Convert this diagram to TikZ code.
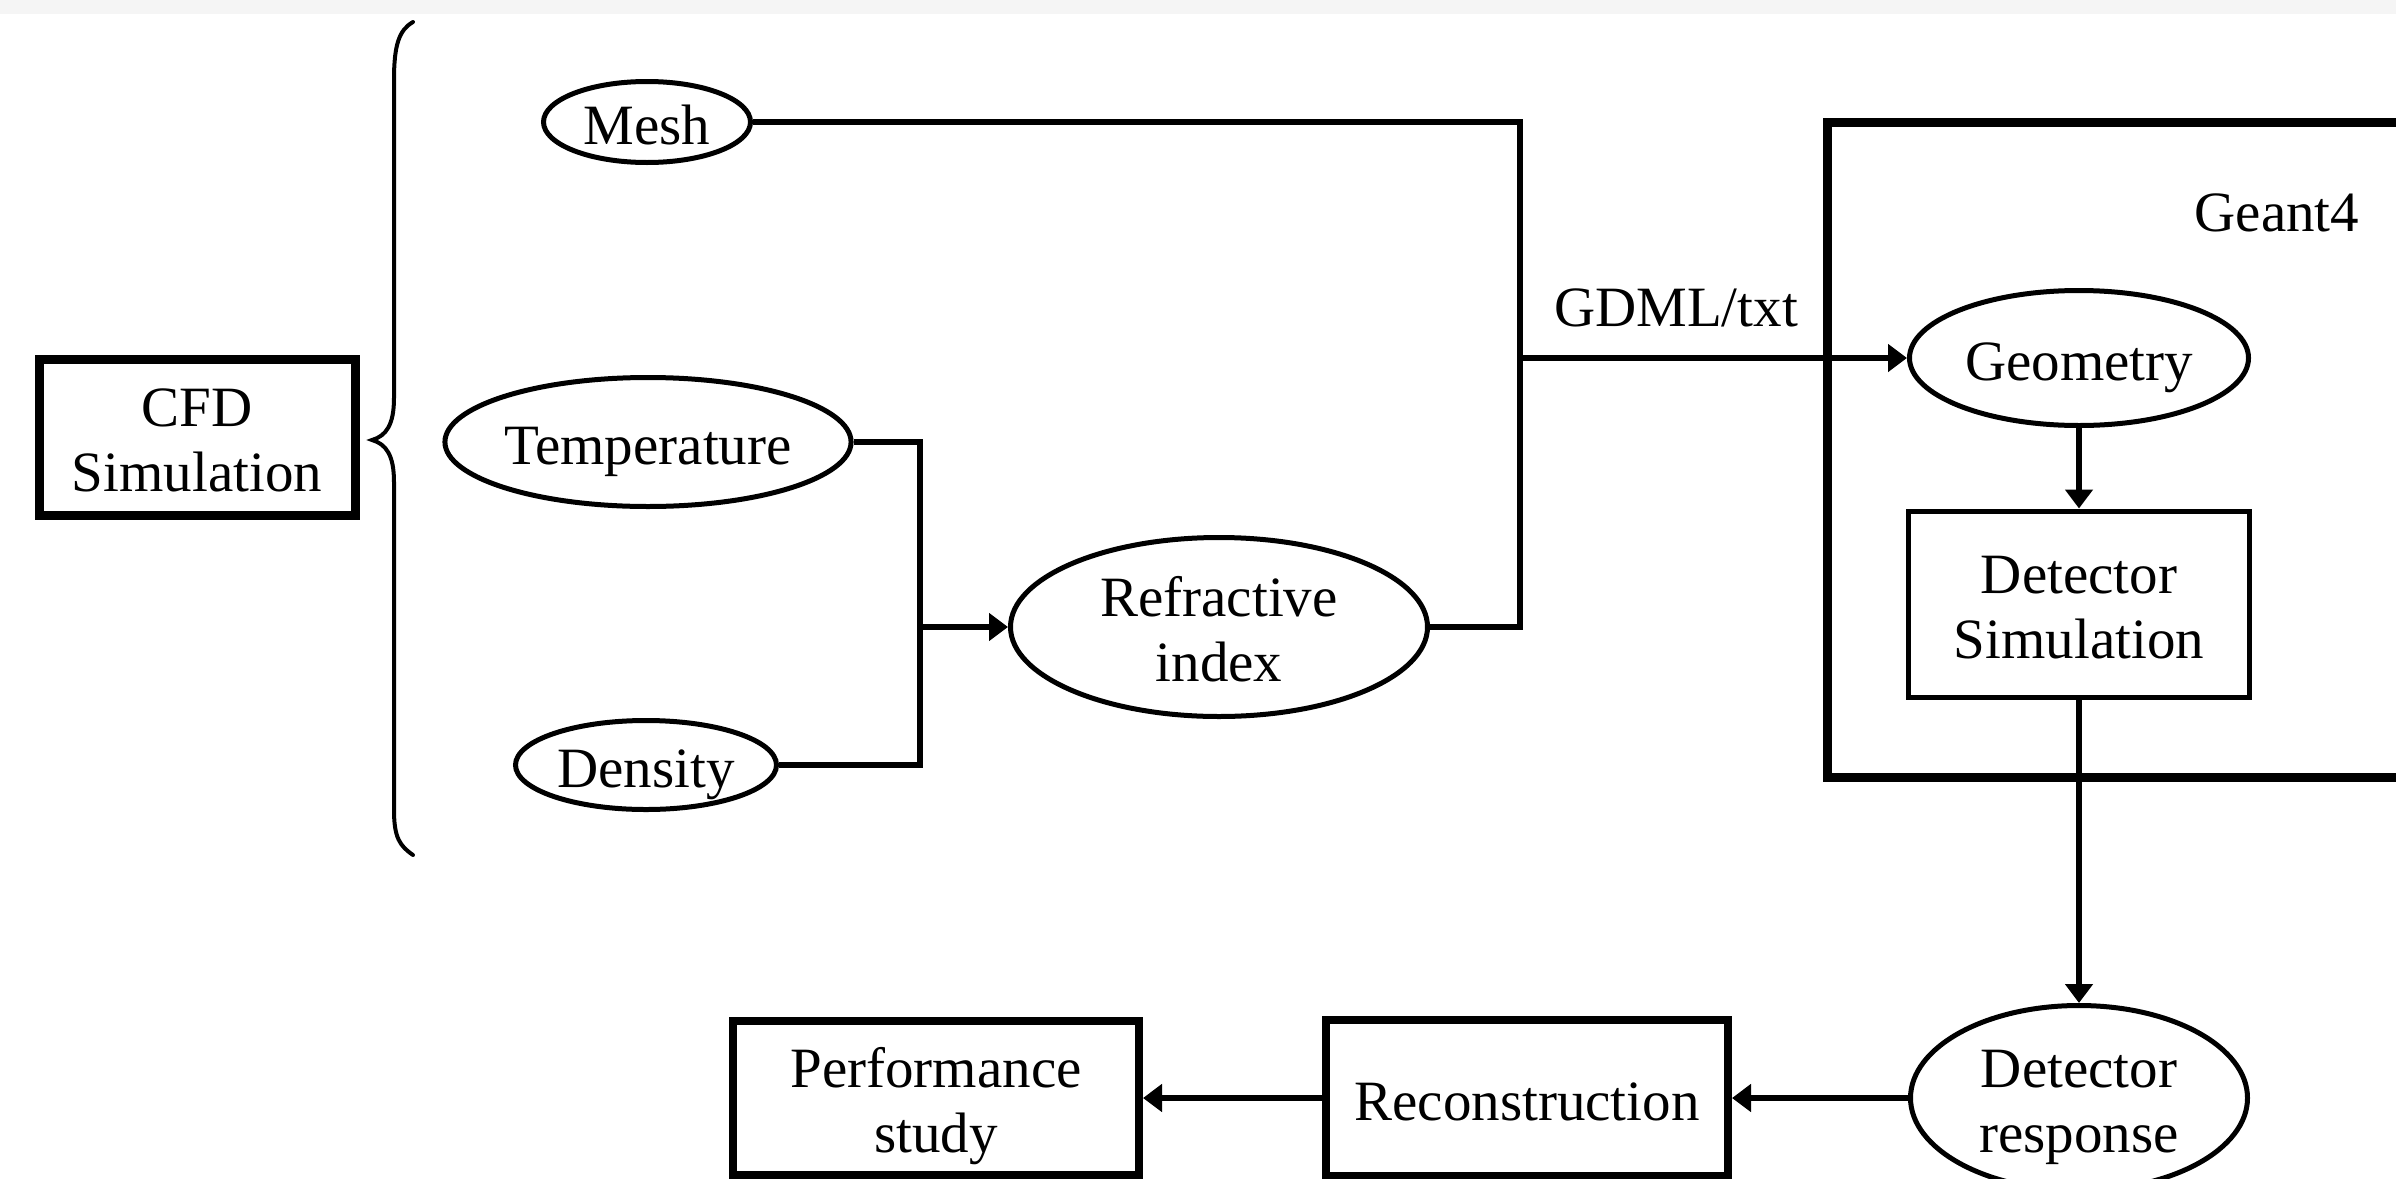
\documentclass[tikz,border=0pt]{standalone}
\usepackage{fontspec}
\setmainfont{Liberation Serif}
\usetikzlibrary{shapes.geometric,arrows.meta}
\newcommand\onel[1]{\raisebox{0pt}[44pt][0pt]{#1}}
\newcommand\twol[2]{\raisebox{0pt}[43pt][65pt]{\vtop{\baselineskip=65pt\lineskiplimit=-100pt\halign{\hfil##\hfil\cr #1\cr #2\cr}}}}
\begin{document}
\begin{tikzpicture}[x=1pt,y=-1pt,
  every node/.style={font=\fontsize{57}{65}\selectfont, inner sep=0pt},
  oval/.style={draw, ellipse, line width=5pt},
  thinbox/.style={draw, rectangle, line width=5pt},
  thickbox/.style={draw, rectangle, line width=9pt},
  conn/.style={line width=5.5pt},
  arr/.style={conn, -{Triangle[length=19pt,width=27pt]}},
  brace/.style={line width=4pt, line cap=round}
]
\useasboundingbox (0,0) rectangle (2396,1178);
\fill[white] (0,0) rectangle (2396,1178);
\fill[black!4] (0,0) rectangle (2396,14);

% CFD box and brace
\node[thickbox, minimum width=316pt, minimum height=156pt] (cfd) at (197,437) {\twol{CFD}{Simulation}};
\draw[brace] (413,22) .. controls (399,30) and (394,45) .. (394,80) -- (394,398)
  .. controls (394,425) and (386,436) .. (372,440)
  .. controls (386,444) and (394,455) .. (394,482) -- (394,810)
  .. controls (394,838) and (400,846) .. (413,855);

% CFD outputs
\node[oval, minimum width=207pt, minimum height=81pt] (mesh) at (647,122) {\onel{Mesh}};
\node[oval, minimum width=365pt, minimum height=129pt] (temp) at (648,442) {\onel{Temperature}};
\node[oval, minimum width=261pt, minimum height=89pt] (dens) at (646,765) {\onel{Density}};
\node[oval, minimum width=417pt, minimum height=179pt] (refr) at (1219,627) {\twol{Refractive}{index}};

% Geant4
\draw[line width=9pt] (1827,122) rectangle (2400,777);
\node (g4label) at (2277,209) {\onel{Geant4}};
\node[oval, minimum width=339pt, minimum height=135pt] (geom) at (2079,358) {\onel{Geometry}};
\node[thinbox, minimum width=341pt, minimum height=186pt] (dsim) at (2079,604) {\twol{Detector}{Simulation}};

% bottom row
\node[oval, minimum width=337pt, minimum height=185pt] (dresp) at (2079,1098) {\twol{Detector}{response}};
\node[thickbox, line width=8pt, minimum width=402pt, minimum height=156pt] (reco) at (1527,1098) {\onel{Reconstruction}};
\node[thickbox, line width=8pt, minimum width=406pt, minimum height=154pt] (perf) at (936,1098) {\twol{Performance}{study}};

\node (gdml) at (1676,304) {\onel{GDML/txt}};

% connectors
\coordinate (busA) at (920,0);
\coordinate (busB) at (1520,0);
\draw[conn] (temp.east) -- (temp.east -| busA) -- (dens.east -| busA) -- (dens.east);
\draw[arr] (refr.west -| busA) -- (refr.west);
\draw[conn] (mesh.east) -- (mesh.east -| busB) -- (refr.east -| busB) -- (refr.east);
\draw[arr] (geom.west -| busB) -- (geom.west);
\draw[arr] (geom.south) -- (dsim.north);
\draw[arr] (dsim.south) -- (dresp.north);
\draw[arr] (dresp.west) -- (reco.east);
\draw[arr] (reco.west) -- (perf.east);
\end{tikzpicture}
\end{document}
